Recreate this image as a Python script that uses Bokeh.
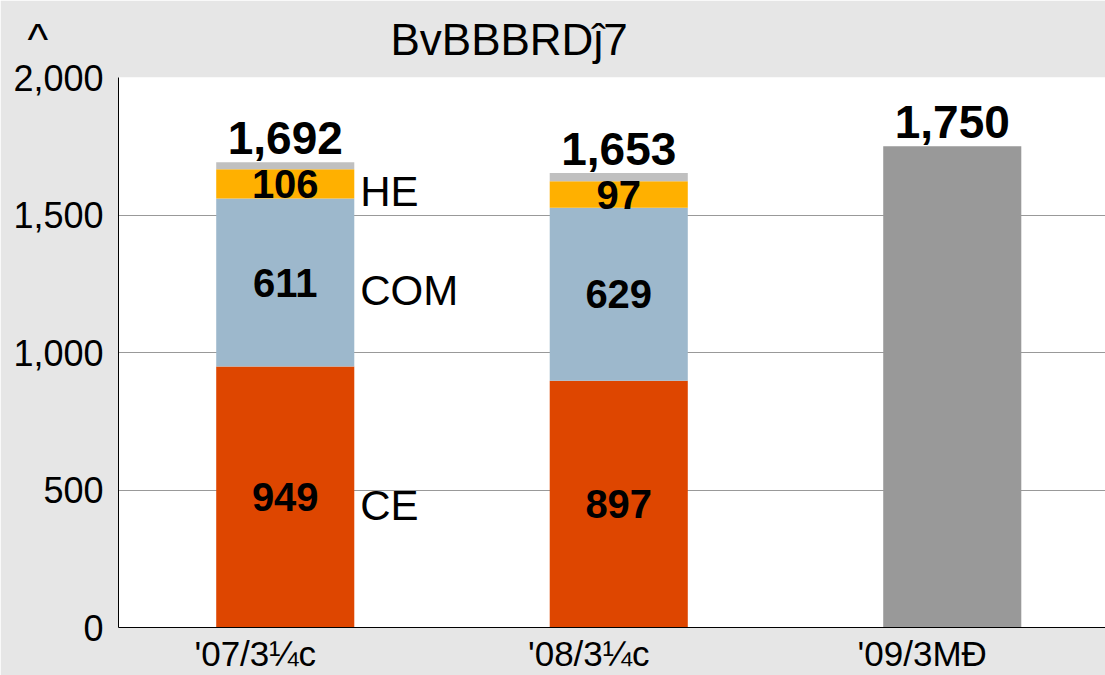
from bokeh.plotting import figure
from bokeh.models import ColumnDataSource, LabelSet, FixedTicker, NumeralTickFormatter, Range1d
from bokeh.core.properties import value
from bokeh.embed import file_html
from bokeh.resources import INLINE

# ---- data ----
categories = ["'07/3¼c", "'08/3¼c", "'09/3MÐ"]
ce = [949, 897]
com = [611, 629]
he = [106, 97]
other = [26, 30]
forecast = [1750]
totals = [1692, 1653, 1750]
series_names = ["CE", "COM", "HE"]
title_text = "BvBBBRDĵ7"
corner_text = "^"
y_ticks = [0, 500, 1000, 1500, 2000]

# ---- style ----
FONT = "Liberation Sans"
BG = "#e6e6e6"
C_CE = "#de4600"
C_COM = "#9db8cc"
C_HE = "#ffb000"
C_OTHER = "#c0c0c0"
C_FC = "#999999"
BAR_W = 0.414
LABEL_SHIFT = 0.09

p = figure(width=1105, height=675, output_backend="svg", toolbar_location=None,
           x_range=Range1d(-0.5, 2.4595), y_range=Range1d(0, 2000),
           min_border_left=118, min_border_right=0, min_border_top=77, min_border_bottom=47)
p.background_fill_color = "white"
p.border_fill_color = BG
p.outline_line_color = None

# title line (corner mark and title share one line above the plot)
p.title.text = corner_text + "\u00a0" * 28 + title_text
p.title.align = "left"
p.title.offset = -91
p.title.standoff = 23
p.title.vertical_align = "top"
p.title.text_font = FONT
p.title.text_font_size = "44px"
p.title.text_font_style = "normal"
p.title.text_color = "black"

xs_hist = list(range(len(ce)))
src = ColumnDataSource(dict(x=xs_hist, CE=ce, COM=com, HE=he, OTHER=other))
p.vbar_stack(["CE", "COM", "HE", "OTHER"], x="x", width=BAR_W, source=src,
             color=[C_CE, C_COM, C_HE, C_OTHER], line_color=None)
p.vbar(x=[len(ce)], top=forecast, width=BAR_W, color=C_FC, line_color=None)

# segment labels
seg_x, seg_y, seg_t = [], [], []
for i in range(len(ce)):
    base = 0
    for v in (ce[i], com[i], he[i]):
        seg_x.append(i)
        seg_y.append(base + v / 2)
        seg_t.append(str(v))
        base += v
p.add_layout(LabelSet(x="x", y="y", text="t", source=ColumnDataSource(dict(x=seg_x, y=seg_y, t=seg_t)),
                      text_align="center", text_baseline="middle", text_font=value(FONT),
                      text_font_size="40px", text_font_style="bold", text_color="black"))

# totals
tot_x = list(range(len(totals)))
p.add_layout(LabelSet(x="x", y="y", text="t",
                      source=ColumnDataSource(dict(x=tot_x, y=totals, t=[f"{v:,}" for v in totals])),
                      text_align="center", text_baseline="middle", y_offset=24, text_font=value(FONT),
                      text_font_size="46px", text_font_style="bold", text_color="black"))

# series name labels next to first bar
name_y = [ce[0] / 2, ce[0] + com[0] / 2, ce[0] + com[0] + he[0] / 2]
p.add_layout(LabelSet(x="x", y="y", text="t",
                      source=ColumnDataSource(dict(x=[0 + BAR_W / 2 + 0.018] * 3, y=name_y, t=series_names)),
                      text_align="left", text_baseline="middle", y_offset=-8, text_font=value(FONT),
                      text_font_size="42px", text_color="black"))

# axes
p.yaxis.ticker = FixedTicker(ticks=y_ticks)
p.yaxis.formatter = NumeralTickFormatter(format="0,0")
p.yaxis.major_label_text_font = FONT
p.yaxis.major_label_text_font_size = "36px"
p.yaxis.major_label_text_color = "black"
p.yaxis.major_tick_line_color = None
p.yaxis.major_tick_out = 0
p.yaxis.major_tick_in = 0
p.yaxis.minor_tick_line_color = None
p.yaxis.major_label_standoff = 15
p.yaxis.axis_line_color = "black"

x_ticks = [round(i - LABEL_SHIFT, 2) for i in range(len(categories))]
p.xaxis.ticker = FixedTicker(ticks=x_ticks)
p.xaxis.major_label_overrides = {t: c for t, c in zip(x_ticks, categories)}
p.xaxis.major_label_text_font = FONT
p.xaxis.major_label_text_font_size = "35px"
p.xaxis.major_label_text_color = "black"
p.xaxis.major_label_standoff = 6
p.xaxis.major_tick_line_color = None
p.xaxis.major_tick_out = 0
p.xaxis.major_tick_in = 0
p.xaxis.minor_tick_line_color = None
p.xaxis.axis_line_color = "black"

p.xgrid.grid_line_color = None
p.ygrid.ticker = FixedTicker(ticks=y_ticks)
p.ygrid.grid_line_color = "#999999"

open("out.html", "w").write(file_html(p, INLINE))
